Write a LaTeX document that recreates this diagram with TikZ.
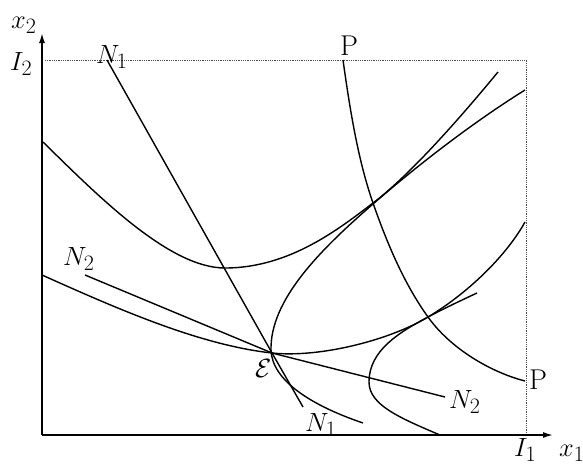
\documentclass[tikz,border=0pt]{standalone}
\usetikzlibrary{arrows.meta}
\begin{document}
\begin{tikzpicture}[x=1pt,y=-1pt,
  curve/.style={line width=1.4pt, line join=round},
  axis/.style={line width=1.6pt,-{Latex[length=10pt,width=6pt]}},
  bound/.style={line width=0.8pt, densely dotted, black!70},
  lab/.style={inner sep=0pt, font=\Huge, scale=1.06},
  labP/.style={inner sep=0pt, font=\Huge, scale=1.15}]
\useasboundingbox (0,0) rectangle (583,464);
\fill[white] (0,0) rectangle (583,464);
% key points
\coordinate (O) at (42,435);
\coordinate (E) at (272,353);
\coordinate (Ytip) at (42,33);
\coordinate (Xtip) at (553,435);
\coordinate (I2c) at (45,60);
\coordinate (TR) at (526,60);
\coordinate (I1c) at (526,435);
\coordinate (N1a) at (107,60);
\coordinate (N1b) at (303,407);
\coordinate (N2a) at (85,275);
\coordinate (N2b) at (445,397);
% bounds
\draw[bound] (I2c) -- (TR) -- (I1c);
% axes
\draw[axis] (O) -- (Ytip);
\draw[axis] (O) -- (Xtip);
% N1 and N2
\draw[curve] (N1a) -- (E) -- (N1b);
\draw[curve] (N2a) -- (E) -- (N2b);
% A: upper U curve
\draw[curve] (43,142) .. controls (100,198) and (170,268) .. (225,268)
  .. controls (290,268) and (340,228) .. (373,203)
  .. controls (410,175) and (460,118) .. (498,72);
% B: sideways curve through E
\draw[curve] (363,423) .. controls (310,405) and (272,380) .. (271,350)
  .. controls (270,300) and (320,250) .. (373,204)
  .. controls (426,158) and (480,118) .. (525,90);
% C: lower U curve
\draw[curve] (42,275) .. controls (120,310) and (200,345) .. (E)
  .. controls (320,358) and (390,340) .. (428,317)
  .. controls (465,295) and (505,258) .. (525,222);
% F: right sideways curve
\draw[curve] (440,435) .. controls (400,418) and (369,405) .. (369,382)
  .. controls (369,350) and (400,332) .. (428,317)
  .. controls (445,308) and (462,300) .. (477,293);
% P curve
\draw[curve] (343,60) .. controls (350,110) and (358,160) .. (373,203)
  .. controls (388,246) and (405,285) .. (428,317)
  .. controls (450,348) and (490,372) .. (525,381);
% labels
\node[lab, anchor=base west] (lx2) at (11,28) {$x_2$};
\node[lab, anchor=base west] (lI2) at (10,70) {$I_2$};
\node[lab, anchor=base west] (lN1t) at (96,63) {$N_1$};
\node[labP, anchor=base west] (lPt) at (340,55) {P};
\node[lab, anchor=base west] (lN2l) at (63,265) {$N_2$};
\node[lab, anchor=base west] (lE) at (255,377) {$\mathcal{E}$};
\node[lab, anchor=base west] (lN1b) at (305,431) {$N_1$};
\node[lab, anchor=base west] (lN2r) at (449,408) {$N_2$};
\node[labP, anchor=base west] (lPr) at (529,389) {P};
\node[lab, anchor=base west] (lI1) at (514,456) {$I_1$};
\node[lab, anchor=base west] (lx1) at (559,456) {$x_1$};
\end{tikzpicture}
\end{document}
